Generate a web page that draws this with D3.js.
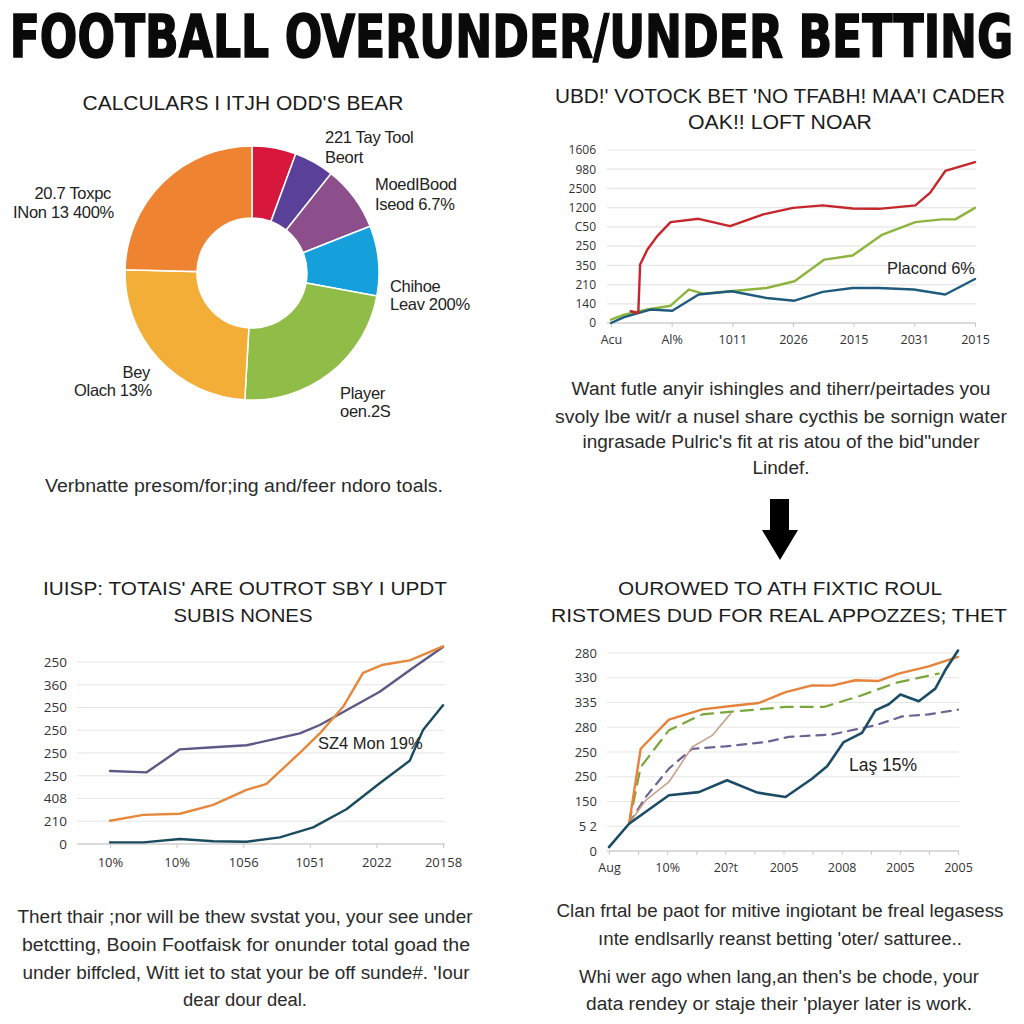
<!DOCTYPE html>
<html><head><meta charset="utf-8">
<script src="https://cdn.jsdelivr.net/npm/d3@7"></script>
<style>
html,body{margin:0;padding:0;background:#fff;}
svg{display:block;}
</style></head>
<body>
<svg id="c" width="1024" height="1024"></svg>
<script>
// ---------- DATA ----------
const mainTitle = "FOOTBALL OVERUNDER/UNDER BETTING";

// Panel 1 donut
const p1Title = "CALCULARS I ITJH ODD'S BEAR";
const p1Values = [5.6, 5.1, 8.3, 8.9, 23.0, 24.5, 24.6];
const p1Colors = ["#d8173c", "#5a4099", "#8d4e8c", "#159fdb", "#8fbd48", "#f2ae37", "#ee8331"];
const p1Caption = "Verbnatte presom/for;ing and/feer ndoro toals.";

// Panel 2 line chart
const p2Title = ["UBD!' VOTOCK BET 'NO TFABH! MAA'I CADER", "OAK!! LOFT NOAR"];
const p2YLabels = ["0", "140", "210", "350", "250", "C50", "1200", "2500", "980", "1606"];
const p2XLabels = ["Acu", "Al%", "1011", "2026", "2015", "2031", "2015"];
const p2Red = [[1.3,0.61],[1.8,0.52],[1.92,3.04],[2.4,3.82],[3.05,4.52],[3.93,5.25],[5.78,5.42],[7.85,5.04],[10.04,5.65],[12.0,5.99],[13.96,6.12],[15.93,5.96],[17.67,5.94],[20.07,6.12],[21.05,6.78],[22.04,7.91],[24,8.37]];
const p2Green = [[0,0.17],[0.87,0.43],[2.4,0.70],[3.93,0.90],[5.13,1.74],[6.1,1.53],[7.85,1.65],[10.25,1.82],[12.1,2.17],[14.07,3.30],[15.93,3.51],[17.9,4.60],[20.07,5.25],[21.8,5.39],[22.7,5.39],[24,5.99]];
const p2Blue = [[0,0.0],[0.87,0.31],[2.6,0.70],[4.04,0.64],[5.78,1.48],[7.96,1.65],[10.25,1.30],[12.1,1.16],[13.96,1.62],[15.93,1.82],[17.67,1.82],[19.96,1.74],[22.04,1.48],[24,2.29]];
const p2Note = "Placond 6%";
const p2Caption = ["Want futle anyir ishingles and tiherr/peirtades you", "svoly lbe wit/r a nusel share cycthis be sornign water", "ingrasade Pulric's fit at ris atou of the bid\"under", "Lindef."];

// Panel 3 line chart
const p3Title = ["IUISP: TOTAIS' ARE OUTROT SBY I UPDT", "SUBIS NONES"];
const p3YLabels = ["0", "210", "408", "250", "250", "250", "250", "360", "250"];
const p3XLabels = ["10%", "10%", "1056", "1051", "2022", "20158"];
const p3Purple = [[0,3.21],[1.1,3.15],[2.1,4.16],[3.1,4.25],[4.1,4.34],[4.9,4.6],[5.7,4.86],[6.3,5.23],[7.1,5.88],[8.1,6.69],[9.0,7.64],[10,8.66]];
const p3Orange = [[0,1.02],[1.0,1.28],[2.1,1.33],[3.1,1.72],[4.1,2.38],[4.7,2.64],[5.7,4.01],[6.3,4.86],[7.0,6.03],[7.6,7.52],[8.2,7.88],[9.0,8.07],[10,8.69]];
const p3Teal = [[0,0.07],[1.0,0.07],[2.1,0.22],[3.1,0.12],[4.1,0.10],[5.1,0.29],[6.1,0.73],[7.1,1.53],[8.1,2.67],[9.0,3.66],[9.4,5.01],[10,6.1]];
const p3Note = "SZ4 Mon 19%";
const p3Caption = ["Thert thair ;nor will be thew svstat you, your see under", "betctting, Booin Footfaisk for onunder total goad the", "under biffcled, Witt iet to stat your be off sunde#. 'Iour", "dear dour deal."];

// Panel 4 line chart
const p4Title = ["OUROWED TO ATH FIXTIC ROUL", "RISTOMES DUD FOR REAL APPOZZES; THET"];
const p4YLabels = ["0", "5 2", "150", "250", "250", "280", "335", "330", "280"];
const p4XLabels = ["Aug", "10%", "20?t", "2005", "2008", "2005", "2005"];
const p4Teal = [[0,0.16],[0.69,1.10],[2.06,2.25],[3.09,2.38],[4.06,2.86],[5.1,2.36],[6.07,2.18],[6.98,2.92],[7.5,3.42],[8.07,4.40],[8.7,4.77],[9.16,5.68],[9.62,5.93],[10.02,6.32],[10.65,6.05],[11.22,6.56],[11.56,7.30],[12,8.1]];
const p4Orange = [[0.69,1.10],[1.09,4.13],[2.06,5.31],[3.21,5.72],[4.12,5.85],[5.15,5.98],[6.07,6.42],[6.98,6.69],[7.67,6.68],[8.47,6.90],[9.27,6.87],[9.96,7.17],[10.99,7.46],[12,7.84]];
const p4Green = [[0.69,1.10],[1.09,3.39],[2.06,4.88],[3.21,5.52],[4.12,5.62],[6.07,5.82],[7.39,5.82],[8.59,6.25],[9.85,6.79],[11.34,7.17]];
const p4Tan = [[0.69,1.10],[1.26,2.05],[2.06,2.79],[2.86,4.20],[3.55,4.67],[4.18,5.55]];
const p4Purple = [[0.69,1.10],[1.26,2.18],[2.06,3.33],[2.86,4.13],[4.01,4.23],[5.38,4.40],[6.18,4.61],[7.67,4.71],[9.16,5.08],[10.08,5.44],[10.99,5.52],[12,5.71]];
const p4Note = "Laş 15%";
const p4Caption = ["Clan frtal be paot for mitive ingiotant be freal legasess", "ınte endlsarlly reanst betting 'oter/ satturee..", "Whi wer ago when lang,an then's be chode, your", "data rendey or staje their 'player later is work."];

// ---------- DRAW ----------
const svg = d3.select("#c");
const BODY = "'Liberation Sans', Arial, sans-serif";
const TICK = "'Open Sans', 'Noto Sans', sans-serif";

function txt(x, y, s, size, o = {}) {
  const t = svg.append("text").attr("x", x).attr("y", y).text(s)
    .attr("font-size", size).attr("font-family", o.family || BODY)
    .attr("fill", o.fill || "#1c1c1c")
    .attr("text-anchor", o.anchor || "middle");
  if (o.weight) t.attr("font-weight", o.weight);
  if (o.len) t.attr("textLength", o.len).attr("lengthAdjust", "spacingAndGlyphs");
  return t;
}

// Main title: size chosen so its natural width fits, then stretched vertically
{
  const t = txt(0, 0, mainTitle, 58, {family: "'Liberation Sans Narrow','DejaVu Sans Condensed','Liberation Sans',sans-serif", weight: 900, fill: "#0a0a0a"})
    .attr("stroke", "#0a0a0a").attr("stroke-width", 1.2);
  const w = t.node().getComputedTextLength();
  const fs = 58 * 1004 / w;
  t.attr("font-size", fs).attr("transform", `translate(511.5,57) scale(1,${58 / fs})`);
}

// ----- Panel 1: donut -----
txt(243, 110, p1Title, 19.5, {len: 321});
const pie = d3.pie().sort(null).startAngle(0).endAngle(2 * Math.PI)(p1Values);
const arc = d3.arc().innerRadius(55).outerRadius(127);
svg.append("g").attr("transform", "translate(252,273)")
  .selectAll("path").data(pie).join("path")
  .attr("d", arc).attr("fill", (d, i) => p1Colors[i])
  .attr("stroke", "#fff").attr("stroke-width", 1.5);

const pieLabels = [
  {x: 325, y: 143, s: "221 Tay Tool", a: "start"},
  {x: 325, y: 163, s: "Beort", a: "start"},
  {x: 375, y: 190, s: "MoedIBood", a: "start"},
  {x: 375, y: 210, s: "Iseod 6.7%", a: "start"},
  {x: 390, y: 292, s: "Chihoe", a: "start"},
  {x: 390, y: 310, s: "Leav 200%", a: "start"},
  {x: 340, y: 399, s: "Player", a: "start"},
  {x: 340, y: 417, s: "oen.2S", a: "start"},
  {x: 150, y: 378, s: "Bey", a: "end"},
  {x: 152, y: 396, s: "Olach 13%", a: "end"},
  {x: 111, y: 199, s: "20.7 Toxpc", a: "end"},
  {x: 114, y: 218, s: "INon 13 400%", a: "end"}
];
pieLabels.forEach(l => txt(l.x, l.y, l.s, 16.5, {anchor: l.a, fill: "#222"}).attr("letter-spacing", -0.3));
txt(244, 492, p1Caption, 18, {len: 398, fill: "#2a2a2a"});

// ----- generic line chart -----
function lineChart(cfg) {
  const x = d3.scaleLinear().domain(cfg.xDomain).range(cfg.xRange);
  const y = d3.scaleLinear().domain([0, cfg.yLabels.length - 1]).range(cfg.yRange);
  const g = svg.append("g");
  // grid
  g.selectAll("line.grid").data(d3.range(cfg.yLabels.length)).join("line")
    .attr("x1", cfg.gridX[0]).attr("x2", cfg.gridX[1])
    .attr("y1", d => y(d)).attr("y2", d => y(d))
    .attr("stroke", d => d === 0 ? "#cfcfcf" : "#e6e6e6").attr("stroke-width", d => d === 0 ? 1.3 : 1.2);
  // y axis
  const ya = g.append("g").attr("transform", `translate(${cfg.gridX[0]},0)`)
    .call(d3.axisLeft(y).tickValues(d3.range(cfg.yLabels.length)).tickFormat(i => cfg.yLabels[i]).tickSize(0).tickPadding(cfg.yPad));
  ya.select(".domain").remove();
  ya.selectAll("text").attr("font-family", TICK).attr("font-size", cfg.yFont).attr("fill", "#333");
  // x axis
  const xa = g.append("g").attr("transform", `translate(0,${cfg.yRange[0]})`)
    .call(d3.axisBottom(x).tickValues(cfg.xTicks).tickFormat(v => {
      const k = cfg.xLabelTicks.indexOf(v); return k >= 0 ? cfg.xLabels[k] : "";
    }).tickSize(4).tickPadding(cfg.xPad));
  xa.select(".domain").remove();
  xa.selectAll("line").attr("stroke", "#c8c8c8");
  xa.selectAll("text").attr("font-family", TICK).attr("font-size", cfg.xFont).attr("fill", "#333");
  const line = d3.line().x(d => x(d[0])).y(d => y(d[1]));
  cfg.series.forEach(s => {
    g.append("path").datum(s.data).attr("d", line).attr("fill", "none")
      .attr("stroke", s.color).attr("stroke-width", s.w || 2.4)
      .attr("stroke-linejoin", "round").attr("stroke-linecap", "round")
      .attr("stroke-dasharray", s.dash || null);
  });
  return {x, y};
}

// ----- Panel 2 -----
txt(780, 103, p2Title[0], 19.5, {len: 450});
txt(780, 129, p2Title[1], 19.5, {len: 184});
lineChart({
  xDomain: [0, 24], xRange: [611, 975], gridX: [607, 976],
  yRange: [323, 150], yLabels: p2YLabels, yPad: 11, yFont: 12,
  xTicks: [0, 4, 8, 12, 16, 20, 24], xLabelTicks: [0, 4, 8, 12, 16, 20, 24], xLabels: p2XLabels, xPad: 8, xFont: 12.5,
  series: [
    {data: p2Green, color: "#8db43c"},
    {data: p2Blue, color: "#1f5b7c"},
    {data: p2Red, color: "#c4262b"}
  ]
});
txt(975, 274, p2Note, 16.5, {anchor: "end", fill: "#222"});
p2Caption.forEach((s, i) => txt(781, [395, 423, 448, 474][i], s, 18, {len: [419, 452, 397, 57][i], fill: "#2a2a2a"}));

// Arrow
svg.append("path").attr("d", "M770,499 L789,499 L789,530 L798,530 L780,560 L762,530 L770,530 Z").attr("fill", "#000");

// ----- Panel 3 -----
txt(245, 595, p3Title[0], 19, {len: 404});
txt(243, 622, p3Title[1], 19, {len: 139});
lineChart({
  xDomain: [0, 10], xRange: [110, 443], gridX: [77, 445],
  yRange: [844, 662], yLabels: p3YLabels, yPad: 10, yFont: 13.5,
  xTicks: [0, 2, 4, 6, 8, 10], xLabelTicks: [0, 2, 4, 6, 8, 10], xLabels: p3XLabels, xPad: 10, xFont: 13,
  series: [
    {data: p3Purple, color: "#5d5885"},
    {data: p3Teal, color: "#1b4b5f"},
    {data: p3Orange, color: "#e5883c"}
  ]
});
txt(318, 749, p3Note, 16.5, {anchor: "start", fill: "#222"});
p3Caption.forEach((s, i) => txt([245, 246, 246, 245][i], [923, 951, 979, 1006][i], s, 18, {len: [455, 448, 447, 124][i], fill: "#2a2a2a"}));

// ----- Panel 4 -----
txt(780, 595, p4Title[0], 19, {len: 324});
txt(779, 622, p4Title[1], 19, {len: 456});
lineChart({
  xDomain: [0, 12], xRange: [609, 958], gridX: [607, 959],
  yRange: [851, 653], yLabels: p4YLabels, yPad: 10, yFont: 13,
  xTicks: d3.range(13), xLabelTicks: [0, 2, 4, 6, 8, 10, 12], xLabels: p4XLabels, xPad: 8, xFont: 12.5,
  series: [
    {data: p4Purple, color: "#6c6394", dash: "9,7", w: 2.2},
    {data: p4Tan, color: "#c9a28c", w: 1.6},
    {data: p4Green, color: "#7aa63c", dash: "12,8", w: 2.2},
    {data: p4Orange, color: "#e5833a"},
    {data: p4Teal, color: "#1c4b66", w: 2.6}
  ]
});
txt(849, 771, p4Note, 17.5, {anchor: "start", fill: "#222"});
p4Caption.forEach((s, i) => txt([780, 780, 779, 779][i], [917, 945, 983, 1010][i], s, 18, {len: [447, 364, 400, 386][i], fill: "#2a2a2a"}));
</script>
</body></html>
